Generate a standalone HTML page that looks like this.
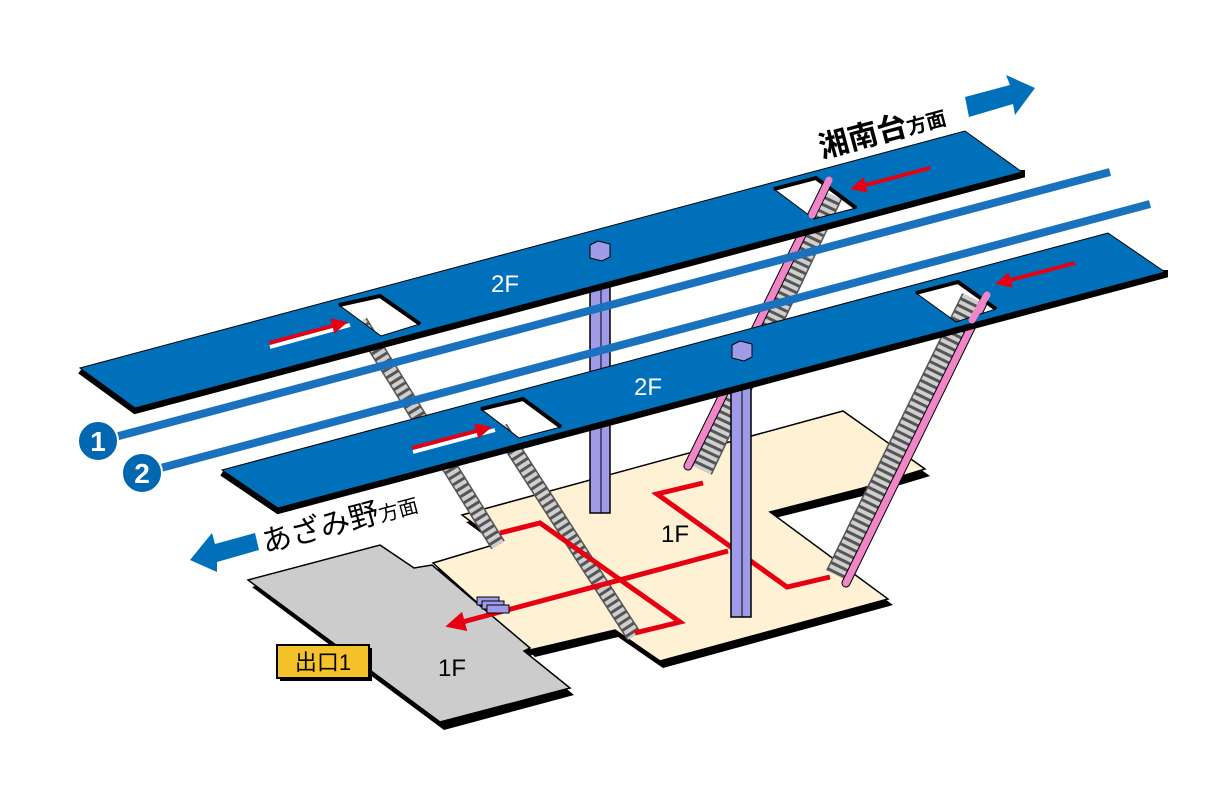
<!DOCTYPE html>
<html><head><meta charset="utf-8"><style>
html,body{margin:0;padding:0;background:#fff;}
svg{display:block}
text{font-family:"Liberation Sans","Noto Sans CJK JP",sans-serif;}
</style></head><body>
<svg width="1216" height="788" viewBox="0 0 1216 788" xmlns="http://www.w3.org/2000/svg">
<defs>
<marker id="ah" markerWidth="4" markerHeight="4" refX="2" refY="2" orient="auto" markerUnits="strokeWidth">
<path d="M0,0 L4,2 L0,4 Z" fill="#e60012"/></marker>
</defs>
<!-- beige floor -->
<polygon points="466,522 847,417 930,476 867,495 775,518 893,605 663,668 618,637 535,657 437,569 503,549" fill="#000"/>
<polygon points="462,515 843,411 925,469 863,488 770,512 888,599 660,661 615,630 530,650 433,563 500,543" fill="#fff2d4" stroke="#000" stroke-width="1.5"/>
<!-- gray floor -->
<polygon points="252,587 384,551 418,575 436,571 534,654 528,657 574,695 444,730" fill="#000"/>
<polygon points="248,580 380,545 414,568 432,565 530,648 524,651 570,688 440,722" fill="#cccccc" stroke="#000" stroke-width="1.5"/>
<!-- stairs -->
<g stroke-linecap="butt">
<line x1="360" y1="322" x2="498" y2="545" stroke="#555" stroke-width="16"/>
<line x1="360" y1="322" x2="498" y2="545" stroke="#cfcfcf" stroke-width="13" stroke-dasharray="4 3"/>
<line x1="500" y1="428" x2="634" y2="636" stroke="#555" stroke-width="16"/>
<line x1="500" y1="428" x2="634" y2="636" stroke="#cfcfcf" stroke-width="13" stroke-dasharray="4 3"/>
<!-- escalator 1 -->
<line x1="832" y1="195" x2="702" y2="470" stroke="#555" stroke-width="22"/>
<line x1="832" y1="195" x2="702" y2="470" stroke="#cfcfcf" stroke-width="19" stroke-dasharray="4 3"/>
<line x1="829" y1="180" x2="688" y2="466" stroke="#000" stroke-width="9" stroke-linecap="round"/>
<line x1="829" y1="180" x2="688" y2="466" stroke="#f086c8" stroke-width="7" stroke-linecap="round"/>
<!-- escalator 2 -->
<line x1="972" y1="298" x2="836" y2="575" stroke="#555" stroke-width="22"/>
<line x1="972" y1="298" x2="836" y2="575" stroke="#cfcfcf" stroke-width="19" stroke-dasharray="4 3"/>
<line x1="987" y1="295" x2="846" y2="583" stroke="#000" stroke-width="9" stroke-linecap="round"/>
<line x1="987" y1="295" x2="846" y2="583" stroke="#f086c8" stroke-width="7" stroke-linecap="round"/>
</g>
<!-- red routes -->
<g fill="none" stroke="#e60012" stroke-width="5">
<polyline points="500,533 540,523 680,622 635,633"/>
<polyline points="703,483 657,494 787,587 830,577"/>
<line x1="728" y1="551" x2="455" y2="624" marker-end="url(#ah)"/>
</g>
<!-- gates -->
<g fill="#a09be8" stroke="#000" stroke-width="1">
<rect x="477" y="597" width="22" height="8"/>
<rect x="482" y="601" width="22" height="8"/>
<rect x="487" y="605" width="22" height="8"/>
</g>
<!-- column 1 -->
<rect x="590" y="258" width="20" height="255" fill="#a09be8" stroke="#000" stroke-width="1.5"/>
<line x1="601" y1="258" x2="601" y2="513" stroke="#000" stroke-width="1"/>
<!-- upper platform -->
<polyline points="80,371 135,411 1022,175 1022,170" fill="none" stroke="#000" stroke-width="6"/>
<path d="M80,368 L965,131 L1022,172 L135,408 Z M339,305 L381,336 L420,324 L380,296 Z M774,189 L814,219 L856,208 L816,178 Z" fill="#0070bb" fill-rule="evenodd" stroke="#000" stroke-width="1"/>
<polyline points="339,305 380,296 420,324" fill="none" stroke="#000" stroke-width="4"/>
<polyline points="774,189 816,178 856,208" fill="none" stroke="#000" stroke-width="4"/>
<text x="505" y="292" fill="#fff" font-size="24" text-anchor="middle">2F</text>
<polygon points="590,245 598,241 610,244 610,257 602,261 590,258" fill="#a09be8" stroke="#000" stroke-width="1"/>
<!-- tracks -->
<g stroke="#1a72bf" stroke-width="8">
<line x1="100" y1="441" x2="1110" y2="172"/>
<line x1="142" y1="473" x2="1150" y2="204"/>
</g>
<g fill="#0067b0" stroke="#fff" stroke-width="2">
<circle cx="98" cy="441" r="20"/><circle cx="142" cy="473" r="20"/>
</g>
<text x="98" y="451" fill="#fff" font-size="28" font-weight="bold" text-anchor="middle">1</text>
<text x="142" y="483" fill="#fff" font-size="28" font-weight="bold" text-anchor="middle">2</text>
<!-- column 2 -->
<rect x="731" y="358" width="20" height="259" fill="#a09be8" stroke="#000" stroke-width="1.5"/>
<line x1="742" y1="358" x2="742" y2="617" stroke="#000" stroke-width="1"/>
<!-- lower platform -->
<polyline points="222,473 278,511 1165,275 1165,270" fill="none" stroke="#000" stroke-width="6"/>
<path d="M222,470 L1108,233 L1165,272 L278,508 Z M481,409 L519,438 L561,427 L523,399 Z M916,293 L956,322 L996,309 L958,282 Z" fill="#0070bb" fill-rule="evenodd" stroke="#000" stroke-width="1"/>
<polyline points="481,409 523,399 561,427" fill="none" stroke="#000" stroke-width="4"/>
<polyline points="916,293 958,282 996,309" fill="none" stroke="#000" stroke-width="4"/>
<text x="648" y="395" fill="#fff" font-size="24" text-anchor="middle">2F</text>
<polygon points="732,345 740,341 752,344 752,357 744,361 732,358" fill="#a09be8" stroke="#000" stroke-width="1"/>
<!-- escalator heads inside holes -->
<line x1="829" y1="180" x2="812" y2="215" stroke="#f086c8" stroke-width="7" stroke-linecap="round"/>
<line x1="987" y1="295" x2="972" y2="320" stroke="#f086c8" stroke-width="7" stroke-linecap="round"/>
<!-- platform arrows -->
<g stroke-width="4" fill="none">
<line x1="269" y1="345" x2="349" y2="323" stroke="#fff" transform="translate(1,2)"/>
<line x1="269" y1="343" x2="340" y2="324" stroke="#e60012" marker-end="url(#ah)"/>
<line x1="412" y1="450" x2="494" y2="428" stroke="#fff" transform="translate(1,2)"/>
<line x1="412" y1="448" x2="484" y2="429" stroke="#e60012" marker-end="url(#ah)"/>
<line x1="930" y1="168" x2="858" y2="187" stroke="#e60012" marker-end="url(#ah)"/>
<line x1="1075" y1="263" x2="1003" y2="282" stroke="#e60012" marker-end="url(#ah)"/>
</g>
<!-- direction arrows -->
<polygon points="965,97 1010,85 1006,75 1035,88 1015,115 1013,104 969,117" fill="#0070bb"/>
<polygon points="255,533 215,544 212,533 190,560 217,572 217,562 259,550" fill="#0070bb"/>
<text transform="translate(822,158) rotate(-15)" font-size="30" font-weight="bold" fill="#000">湘南台<tspan font-size="20">方面</tspan></text>
<text transform="translate(265,553) rotate(-15)" font-size="30" fill="#000">あざみ野<tspan font-size="20">方面</tspan></text>
<!-- 1F labels -->
<text x="675" y="542" font-size="24" fill="#000" text-anchor="middle">1F</text>
<text x="452" y="676" font-size="24" fill="#000" text-anchor="middle">1F</text>
<!-- exit -->
<rect x="280" y="648" width="92" height="33" fill="#000"/>
<rect x="277" y="645" width="92" height="33" fill="#f5c22b" stroke="#000" stroke-width="2"/>
<text x="323" y="670" font-size="22" text-anchor="middle" fill="#000">出口1</text>
</svg>
</body></html>
